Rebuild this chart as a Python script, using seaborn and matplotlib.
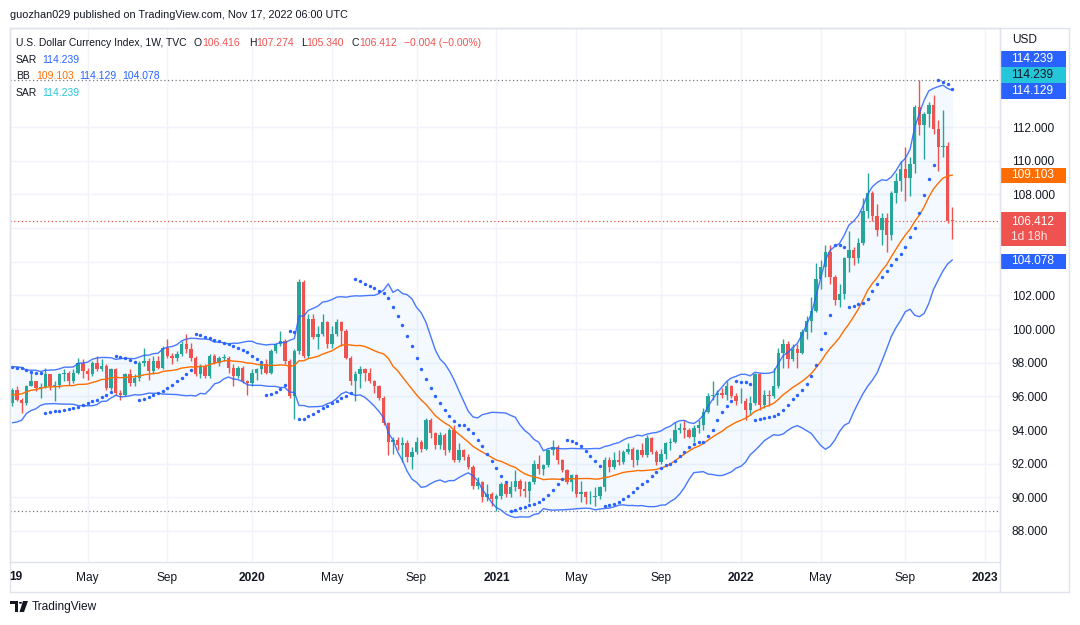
import numpy as np
import pandas as pd
import matplotlib
matplotlib.use("Agg")
import matplotlib.pyplot as plt
import matplotlib.dates as mdates
from matplotlib.patches import Rectangle, Polygon, Circle
from matplotlib.lines import Line2D
import seaborn as sns

sns.set_theme(style="white")
plt.rcParams['font.family'] = ['Liberation Sans', 'DejaVu Sans']

# weekly DXY candles, Monday dates
first_week = "2019-01-14"
first_open = 95.6
last_open = 106.416

# closes before the first visible bar, only used to warm up the bands
warmup_closes = [95.1, 95.4, 94.9, 94.2, 95.1, 95.6, 95.2, 95.7, 96.4, 96.5,
                 96.9, 96.5, 96.9, 97.3, 96.6, 97.4, 96.9, 96.2, 96.2, 95.6]

closes = [
    # 2019
    96.4, 95.8, 95.6, 96.6, 96.9, 96.5, 96.5, 97.3, 96.6, 96.7,
    97.3, 97.4, 96.9, 97.4, 98.0, 97.5, 97.3, 98.0, 97.6, 97.8,
    96.5, 97.6, 96.2, 96.1, 97.3, 96.8, 97.1, 98.0, 98.1, 97.5,
    98.1, 97.7, 98.9, 98.4, 98.3, 98.5, 99.1, 98.8, 98.3, 97.3,
    97.8, 97.2, 98.4, 98.0, 98.3, 98.3, 97.7, 97.2, 97.7, 96.9,
    96.8,
    # 2020
    97.4, 97.6, 97.9, 97.4, 98.7, 99.1, 99.3, 98.1, 96.0, 98.7,
    102.8, 98.4, 100.6, 99.5, 99.7, 100.4, 99.1, 99.7, 100.4, 99.9,
    98.3, 96.9, 97.3, 97.6, 97.4, 96.9, 96.6, 95.9, 94.4, 93.3,
    93.4, 93.1, 93.2, 92.4, 92.7, 93.3, 92.9, 94.6, 93.8, 93.1,
    93.7, 92.8, 94.0, 92.2, 92.8, 92.4, 91.8, 90.7, 90.9, 90.0,
    90.2, 89.9,
    # 2021
    90.1, 90.8, 90.2, 90.6, 91.0, 90.5, 90.4, 90.9, 92.0, 91.7,
    91.9, 92.8, 93.0, 92.2, 91.6, 90.9, 91.3, 90.2, 90.3, 90.0,
    90.0, 90.1, 90.6, 92.2, 91.8, 92.2, 92.1, 92.7, 92.9, 92.2,
    92.8, 92.5, 93.5, 92.7, 92.1, 92.6, 93.2, 93.3, 94.0, 94.1,
    94.0, 93.6, 94.1, 94.3, 95.1, 96.0, 96.1, 96.2, 96.1, 96.6,
    96.0, 95.7,
    # 2022
    95.7, 95.2, 95.6, 97.3, 95.5, 96.1, 96.0, 96.6, 98.6, 99.1,
    98.2, 98.8, 98.6, 99.8, 100.5, 101.1, 103.0, 103.7, 104.6, 103.1,
    101.7, 102.1, 104.2, 104.7, 104.2, 105.1, 107.0, 108.1, 106.7, 105.9,
    106.6, 105.6, 108.1, 108.8, 109.5, 109.0, 109.8, 113.2, 112.1, 112.8,
    113.3, 111.9, 110.8, 110.9, 106.42, 106.412,
]

highs = [
    96.5, 96.6, 95.9, 96.7, 97.4, 96.9, 96.8, 97.7, 97.3, 96.9,
    97.4, 97.6, 97.5, 97.6, 98.3, 98.2, 97.7, 98.1, 98.4, 98.2,
    97.9, 97.7, 97.7, 96.4, 97.4, 97.6, 97.3, 98.1, 98.9, 98.3,
    98.4, 98.4, 99.0, 99.4, 98.6, 98.7, 99.3, 99.7, 99.2, 98.4,
    97.9, 97.9, 98.5, 98.5, 98.4, 98.5, 98.4, 97.9, 97.8, 97.8,
    97.0,
    97.6, 97.7, 98.0, 98.2, 98.8, 99.2, 99.9, 99.4, 98.2, 98.8,
    102.99, 102.9, 100.9, 100.9, 100.2, 100.9, 100.5, 100.2, 100.6, 100.5,
    100.0, 98.4, 97.5, 97.8, 97.7, 97.7, 97.0, 96.7, 96.0, 94.5,
    93.6, 93.6, 93.6, 93.4, 93.0, 93.6, 93.4, 94.7, 94.7, 93.9,
    93.9, 93.8, 94.1, 94.3, 93.2, 92.9, 92.6, 91.9, 91.2, 91.0,
    90.8, 90.3,
    90.2, 90.9, 90.9, 91.0, 91.6, 91.1, 91.0, 91.0, 92.2, 92.5,
    92.0, 92.9, 93.4, 93.1, 92.3, 91.7, 91.4, 91.4, 91.0, 90.4,
    90.4, 90.6, 90.7, 92.4, 92.4, 92.7, 92.8, 92.8, 93.2, 93.0,
    92.9, 93.2, 93.7, 93.6, 92.8, 92.9, 93.3, 93.5, 94.5, 94.4,
    94.6, 94.1, 94.3, 94.6, 95.3, 96.2, 96.9, 96.4, 96.5, 96.9,
    96.7, 96.2,
    96.5, 95.9, 96.0, 97.4, 97.4, 96.4, 96.4, 97.7, 98.9, 99.4,
    99.3, 99.1, 99.1, 100.0, 100.8, 101.9, 103.9, 104.1, 105.0, 105.0,
    103.2, 102.7, 104.3, 105.8, 104.9, 105.4, 107.8, 109.3, 108.2, 107.4,
    106.9, 106.9, 108.2, 109.3, 110.0, 110.8, 110.2, 113.3, 114.78, 112.9,
    113.5, 113.9, 112.4, 113.0, 111.1, 107.274,
]

lows = [
    95.4, 95.7, 95.0, 95.5, 96.6, 96.3, 95.9, 96.5, 96.4, 95.7,
    96.5, 96.9, 96.7, 96.8, 97.3, 97.1, 97.0, 97.2, 97.5, 97.5,
    96.4, 96.4, 96.1, 95.8, 96.0, 96.6, 96.6, 96.9, 97.8, 97.0,
    97.3, 97.6, 97.6, 98.3, 97.9, 98.1, 98.4, 98.6, 98.1, 97.2,
    97.1, 97.1, 97.1, 97.9, 97.8, 98.1, 97.4, 96.6, 97.1, 96.8,
    96.1,
    96.6, 97.0, 97.3, 97.3, 97.3, 98.6, 99.0, 97.9, 95.9, 94.65,
    98.5, 98.3, 98.3, 99.4, 98.8, 99.6, 98.9, 98.9, 99.6, 99.0,
    98.2, 96.7, 95.7, 96.5, 96.9, 96.8, 96.2, 95.8, 94.3, 92.5,
    92.6, 92.8, 92.1, 92.1, 91.7, 92.6, 92.7, 92.8, 93.5, 92.9,
    92.9, 92.5, 92.7, 92.1, 92.1, 92.2, 91.7, 90.5, 90.5, 89.7,
    89.8, 89.5,
    89.21, 89.9, 90.0, 90.0, 90.4, 90.1, 90.0, 89.7, 90.8, 91.4,
    91.3, 91.8, 92.5, 92.0, 91.5, 90.8, 90.4, 90.0, 89.7, 89.6,
    89.6, 89.5, 89.9, 90.4, 91.5, 91.7, 91.9, 92.0, 92.6, 91.8,
    91.9, 92.4, 92.4, 92.6, 91.9, 92.0, 92.3, 92.8, 93.2, 93.8,
    93.5, 93.5, 93.3, 93.8, 94.0, 95.0, 95.8, 95.5, 95.9, 95.8,
    95.9, 95.5,
    95.6, 94.6, 94.9, 95.5, 95.2, 95.3, 95.4, 95.9, 96.5, 97.7,
    97.7, 98.1, 97.7, 98.5, 99.4, 99.8, 101.0, 102.4, 103.1, 102.7,
    101.4, 101.3, 101.8, 103.4, 103.8, 103.9, 105.0, 106.6, 106.4, 105.5,
    105.0, 104.6, 105.3, 107.5, 108.2, 107.6, 107.9, 109.3, 111.5, 110.1,
    112.0, 111.6, 109.4, 110.2, 106.3, 105.34,
]

# SAR starting state (downtrend at the first bar)
sar_start = 97.75
sar_start_ep = 95.4

tick_dates = ["2019-05-06", "2019-09-02", "2020-01-06", "2020-05-04", "2020-09-07",
              "2021-01-04", "2021-05-03", "2021-09-06", "2022-01-03", "2022-05-02",
              "2022-09-05", "2023-01-02"]
tick_labels = ["May", "Sep", "2020", "May", "Sep", "2021", "May", "Sep", "2022",
               "May", "Sep", "2023"]
price_ticks = [88, 90, 92, 94, 96, 98, 100, 102, 104, 106, 108, 110, 112]
# 104 and 106 sit under the price boxes on the scale
hidden_ticks = [104, 106]

UP = "#26a69a"
DOWN = "#ef5350"
BLUE = "#2962ff"
ORANGE = "#ff6d00"
CYAN = "#26c6da"
DARK = "#131722"
GRID = "#f0f3fa"
BORDER = "#e0e3eb"


def parabolic_sar(high, low, s, ep, step=0.02, max_af=0.2):
    out = np.zeros(len(high))
    out[0] = s
    down = True
    af = step
    for i in range(1, len(high)):
        s = s + af * (ep - s)
        j = max(i - 2, 0)
        if down:
            s = max(s, high[i - 1], high[j])
            if high[i] > s:
                down, s, ep, af = False, ep, high[i], step
            elif low[i] < ep:
                ep, af = low[i], min(af + step, max_af)
        else:
            s = min(s, low[i - 1], low[j])
            if low[i] < s:
                down, s, ep, af = True, ep, low[i], step
            elif high[i] > ep:
                ep, af = high[i], min(af + step, max_af)
        out[i] = s
    return out


def main():
    n = len(closes)
    dates = pd.date_range(first_week, periods=n, freq="7D")
    x = mdates.date2num(dates)
    c = np.array(closes)
    o = np.array([first_open] + closes[:-1])
    o[-1] = last_open
    h = np.array(highs)
    l = np.array(lows)

    # bollinger bands 20, 2
    s = pd.Series(warmup_closes + closes)
    mid = s.rolling(20).mean().values[-n:]
    sd = s.rolling(20).std(ddof=0).values[-n:]
    bb = pd.DataFrame({"x": x, "basis": mid, "upper": mid + 2 * sd, "lower": mid - 2 * sd})
    sar = parabolic_sar(h, l, sar_start, sar_start_ep)

    fig = plt.figure(figsize=(10.8, 6.25), dpi=100)
    fig.patch.set_facecolor("white")
    W, H = 1080, 625
    ax = fig.add_axes([10 / W, 1 - 562 / H, 990 / W, 534 / H])
    ax.set_facecolor("white")

    ax.fill_between(bb["x"], bb["lower"], bb["upper"], color="#2196f3", alpha=0.05, lw=0, zorder=1)

    up = c >= o
    for mask, col in [(up, UP), (~up, DOWN)]:
        ax.vlines(x[mask], l[mask], h[mask], color=col, lw=1, zorder=2)
        bottom = np.minimum(o, c)[mask]
        height = np.maximum(np.abs(c - o)[mask], 0.04)
        ax.bar(x[mask], height, bottom=bottom, width=5.0, color=col, lw=0, zorder=2)

    sns.lineplot(data=bb, x="x", y="upper", ax=ax, color=BLUE, lw=1, alpha=0.85, zorder=3)
    sns.lineplot(data=bb, x="x", y="lower", ax=ax, color=BLUE, lw=1, alpha=0.85, zorder=3)
    sns.lineplot(data=bb, x="x", y="basis", ax=ax, color=ORANGE, lw=1, zorder=3)
    sns.scatterplot(x=x, y=sar, ax=ax, s=6, color=BLUE, linewidth=0, zorder=4)

    dot = (0, (1, 2))
    ax.axhline(h.max(), color="#787b86", ls=dot, lw=0.9, zorder=1)
    ax.axhline(l.min(), color="#787b86", ls=dot, lw=0.9, zorder=1)
    ax.axhline(c[-1], color=DOWN, ls=dot, lw=0.9, zorder=1)

    ax.set_xlim(mdates.date2num(pd.Timestamp("2019-01-10 12:00")),
                mdates.date2num(pd.Timestamp("2023-01-24")))
    ax.set_ylim(86.158, 117.887)
    ax.set_xlabel("")
    ax.set_ylabel("")

    ax.yaxis.tick_right()
    ax.set_yticks(price_ticks)
    ax.set_yticklabels(["" if v in hidden_ticks else f"{v:.3f}" for v in price_ticks])
    ax.tick_params(axis="y", length=0, pad=8.5, labelsize=8.6, labelcolor=DARK)
    ax.set_xticks(mdates.date2num(pd.to_datetime(tick_dates)))
    ax.set_xticklabels(tick_labels)
    ax.tick_params(axis="x", length=0, pad=7, labelsize=8.6, labelcolor=DARK)
    for lbl in ax.get_xticklabels():
        if lbl.get_text().isdigit():
            lbl.set_fontweight("bold")
    ax.grid(True, color=GRID, lw=1)
    ax.set_axisbelow(True)
    for sp in ax.spines.values():
        sp.set_color(BORDER)
        sp.set_linewidth(1)

    def fx(px):
        return px / W

    def fy(py):
        return 1 - py / H

    # frame around price and time scales
    for xs, ys in [([10, 1069], [28, 28]), ([10, 1069], [592, 592]), ([1069, 1069], [28, 592]),
                   ([1000, 1000], [28, 592]), ([10, 10], [28, 592])]:
        fig.add_artist(Line2D([fx(v) for v in xs], [fy(v) for v in ys], color=BORDER, lw=1))

    fig.text(fx(16), fy(577), "19", fontsize=8.6, fontweight="bold", color=DARK, ha="center", va="center")

    # header and legend
    fig.text(fx(10), fy(15), "guozhan029 published on TradingView.com, Nov 17, 2022 06:00 UTC",
             fontsize=7.8, color=DARK, va="center")
    legend = [
        (43, [(16, "U.S. Dollar Currency Index, 1W, TVC", DARK), (193, "O", DARK), (202, "106.416", DOWN),
              (249, "H", DARK), (256, "107.274", DOWN), (301, "L", DARK), (306, "105.340", DOWN),
              (351, "C", DARK), (359, "106.412", DOWN), (404, "\u22120.004 (\u22120.00%)", DOWN)]),
        (60, [(16, "SAR", DARK), (42, "114.239", BLUE)]),
        (76, [(16, "BB", DARK), (36, "109.103", ORANGE), (79, "114.129", BLUE), (122, "104.078", BLUE)]),
        (93, [(16, "SAR", DARK), (42, "114.239", CYAN)]),
    ]
    for py, parts in legend:
        for px, txt, col in parts:
            fig.text(fx(px), fy(py), txt, fontsize=7.5, color=col, va="center")

    # price scale labels
    fig.text(fx(1012), fy(40), "USD", fontsize=8.6, color=DARK, va="center")
    boxes = [(59, "114.239", BLUE, "white"), (75, "114.239", CYAN, DARK), (91, "114.129", BLUE, "white"),
             (175, "109.103", ORANGE, "white"), (261, "104.078", BLUE, "white")]
    for py, txt, bg, fg in boxes:
        fig.add_artist(Rectangle((fx(1001), fy(py + 7.5)), 65 / W, 15 / H, color=bg, lw=0))
        fig.text(fx(1011), fy(py), txt, fontsize=8.6, color=fg, va="center")
    fig.add_artist(Rectangle((fx(1001), fy(246)), 65 / W, 34 / H, color=DOWN, lw=0))
    fig.text(fx(1011), fy(222), "106.412", fontsize=8.6, color="white", va="center")
    fig.text(fx(1011), fy(237), "1d 18h", fontsize=8.6, color="#fde3e3", va="center")

    # TradingView logo
    fig.add_artist(Polygon([(fx(10), fy(601)), (fx(18), fy(601)), (fx(18), fy(612)),
                            (fx(15), fy(612)), (fx(15), fy(604)), (fx(10), fy(604))],
                           closed=True, color=DARK, lw=0))
    fig.add_artist(Circle((fx(20.5), fy(602.8)), 1.6 / W, color=DARK, lw=0))
    fig.add_artist(Polygon([(fx(23), fy(601)), (fx(28), fy(601)), (fx(24), fy(612)), (fx(19.5), fy(612))],
                           closed=True, color=DARK, lw=0))
    fig.text(fx(32), fy(607), "TradingView", fontsize=8.6, color=DARK, va="center")

    fig.savefig("out.png", dpi=100, facecolor="white")


main()
